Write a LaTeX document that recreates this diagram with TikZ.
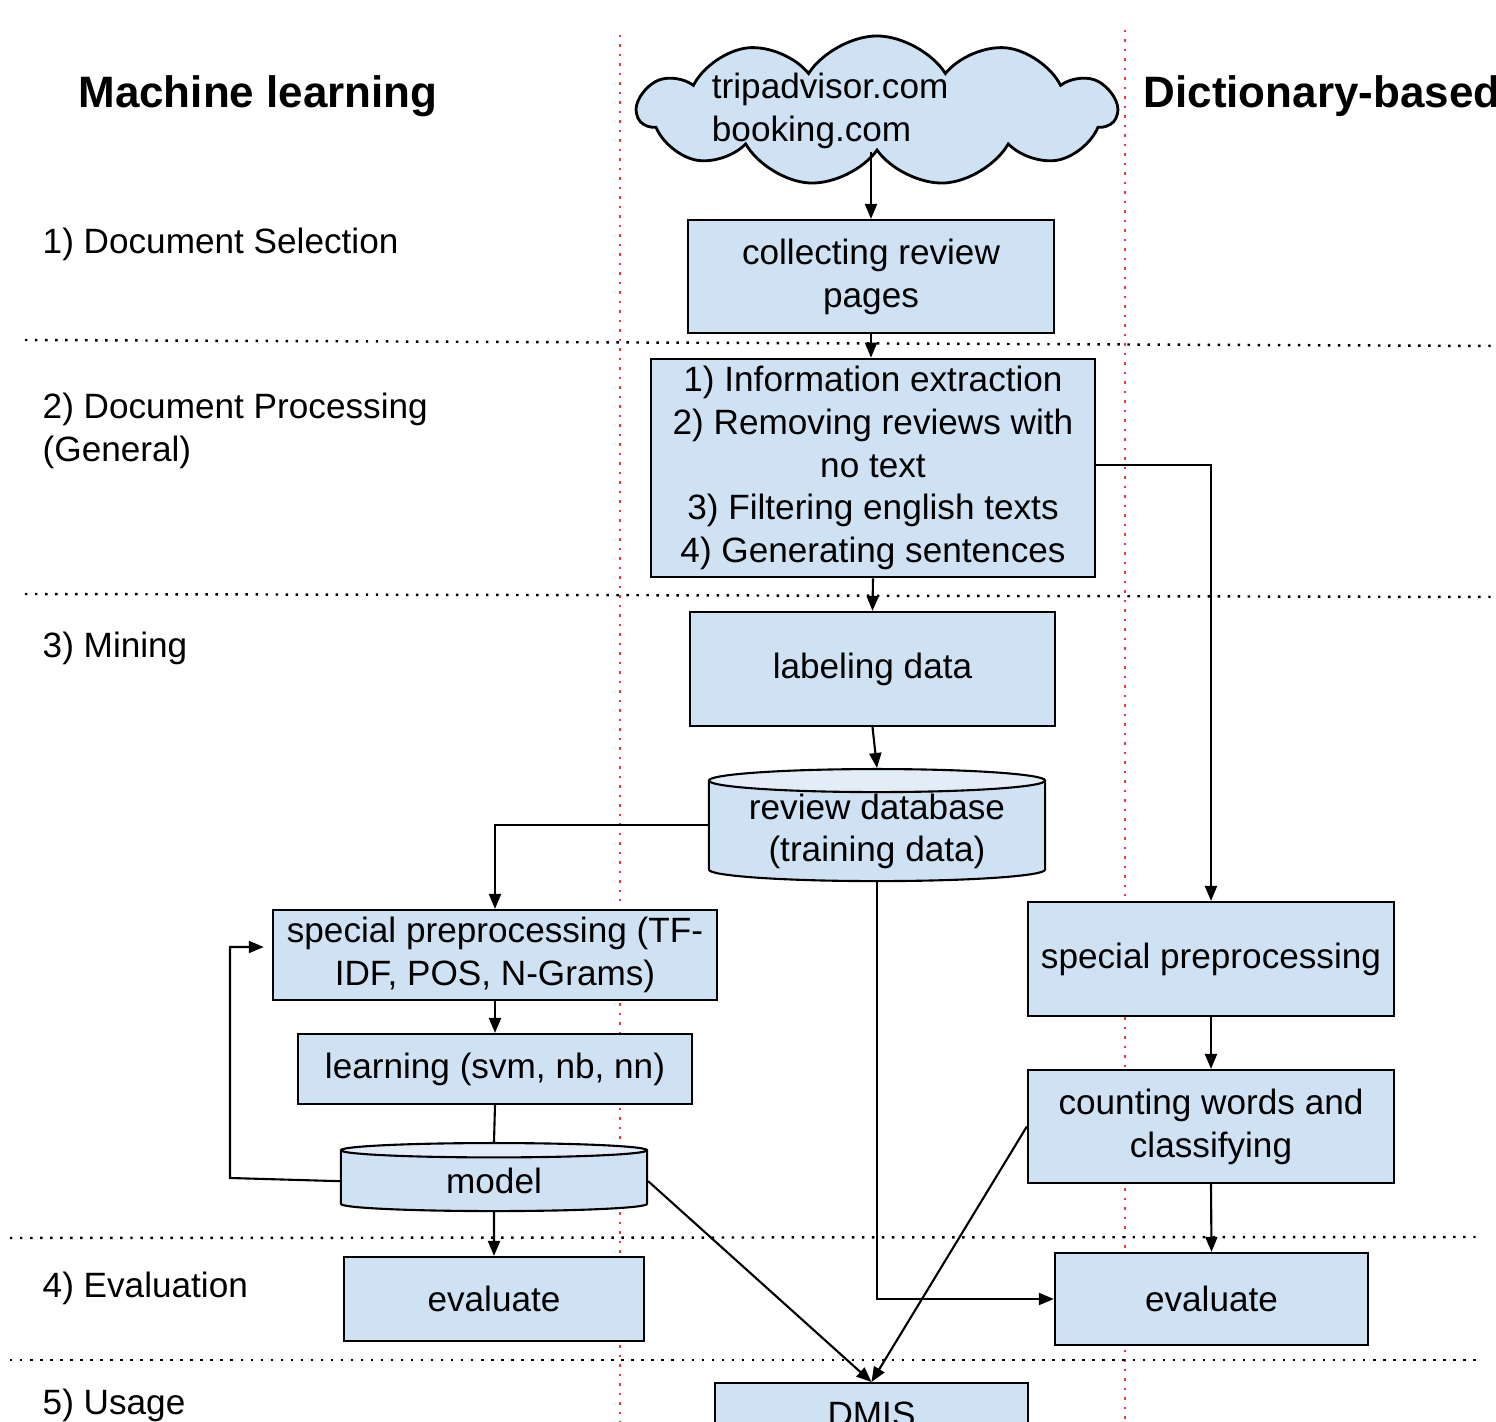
\documentclass[tikz,border=0pt]{standalone}
\usepackage{fontspec}
\setmainfont{Liberation Sans}
\usetikzlibrary{shapes.geometric,shapes.symbols,arrows.meta}
\definecolor{boxblue}{HTML}{CFE2F3}
\definecolor{toplight}{HTML}{E3EDF8}
\definecolor{sepred}{HTML}{E8383D}
\begin{document}
\begin{tikzpicture}[x=0.01cm,y=-0.01cm,
  txt/.style={font=\fontsize{10}{12.2}\selectfont},
  box/.style={txt, draw, line width=0.6pt, fill=boxblue, align=center, inner sep=2pt},
  db/.style={txt, cylinder, shape border rotate=90, draw, line width=0.6pt, align=center,
    cylinder uses custom fill, cylinder body fill=boxblue, cylinder end fill=toplight, inner sep=0pt},
  arr/.style={line width=0.6pt, -{Triangle[length=1.5mm,width=1.2mm]}},
  link/.style={line width=0.6pt},
  rowsep/.style={line width=0.7pt, dash pattern=on 0.7pt off 2.15pt},
  colsep/.style={sepred, line width=0.7pt, dash pattern=on 0.7pt off 2pt},
  head/.style={font=\fontsize{12.5}{15}\selectfont\bfseries, inner sep=0pt},
  stage/.style={txt, anchor=west, align=left, inner sep=0pt}]

\useasboundingbox (0,0) rectangle (1496,1422);
\clip (0,0) rectangle (1496,1422);
\fill[white] (0,0) rectangle (1496,1422);

\draw[colsep] (620,35) -- (620,1422);
\draw[colsep] (1125,30) -- (1125,1422);
\draw[rowsep] (25,340) -- (1496,346);
\draw[rowsep] (25,594) -- (1496,597);
\draw[rowsep] (10,1238) -- (1480,1237);
\draw[rowsep] (10,1360) -- (1480,1360);

\node[head] (mltitle) at (258,96) {Machine learning};
\node[head, anchor=west] (dicttitle) at (1143,96) {Dictionary-based};

\node[stage] (s1) at (42,244) {1) Document Selection};
\node[stage] (s2) at (42,431) {2) Document Processing\\(General)};
\node[stage] (s3) at (42,648) {3) Mining};
\node[stage] (s4) at (42,1288) {4) Evaluation};
\node[stage] (s5) at (42,1405) {5) Usage};

\node[cloud, cloud puffs=11, cloud puff arc=115, aspect=3, draw, line width=0.8pt, fill=boxblue,
  minimum width=4.78cm, minimum height=1.5cm,
  label={[txt, align=left, text width=3.3cm]center:{tripadvisor.com\\booking.com}}] (web) at (877,111) {};

\node[box, minimum width=3.66cm, minimum height=1.13cm] (collect) at (871,276.5) {collecting review\\pages};
\node[box, minimum width=4.44cm, minimum height=2.18cm] (proc) at (873,468) {1) Information extraction\\2) Removing reviews with\\no text\\3) Filtering english texts\\4) Generating sentences};
\node[box, minimum width=3.65cm, minimum height=1.14cm] (labeling) at (872.5,669) {labeling data};
\node[db, minimum width=3.36cm, minimum height=1.12cm, aspect=0.09, anchor=north] (reviews) at (877,768) {review database\\(training data)};

\node[box, minimum width=4.44cm, minimum height=0.9cm] (mlprep) at (495,955) {special preprocessing (TF-\\IDF, POS, N-Grams)};
\node[box, minimum width=3.94cm, minimum height=0.7cm] (learn) at (495,1069) {learning (svm, nb, nn)};
\node[db, minimum width=3.06cm, minimum height=0.68cm, aspect=0.15, anchor=north] (model) at (494,1142) {model};
\node[box, minimum width=3.0cm, minimum height=0.84cm] (mleval) at (494,1299) {evaluate};

\node[box, minimum width=3.66cm, minimum height=1.14cm] (dprep) at (1211,959) {special preprocessing};
\node[box, minimum width=3.66cm, minimum height=1.13cm] (count) at (1211,1126.5) {counting words and\\classifying};
\node[box, minimum width=3.13cm, minimum height=0.92cm] (deval) at (1211.5,1299) {evaluate};

\node[box, minimum width=3.13cm, minimum height=0.62cm, anchor=north] (dmis) at (871.5,1382) {DMIS};

\coordinate (loop) at (230,1178);

\draw[arr] (collect.north |- web.south) -- (collect.north);
\draw[arr] (collect.south) -- (collect.south |- proc.north);
\draw[arr] (proc.south) -- (labeling.north);
\draw[arr] (labeling.south) -- (reviews.north);
\draw[arr] ([yshift=0.06cm]reviews.west) -| (mlprep.north);
\draw[arr] (mlprep.south) -- (learn.north);
\draw[link] (learn.south) -- (model.north);
\draw[arr] (model.south) -- (mleval.north);
\draw[arr, shorten >=0.08cm] (model.west) -- (loop) |- ([yshift=0.08cm]mlprep.west);
\draw[arr] (model.east) -- (dmis.north);
\draw[arr] ([yshift=0.03cm]proc.east) -| (dprep.north);
\draw[arr] (dprep.south) -- (count.north);
\draw[arr] (count.south) -- (deval.north);
\draw[arr] (count.west) -- (dmis.north);
\draw[arr] (reviews.south) |- (deval.west);

\end{tikzpicture}
\end{document}
